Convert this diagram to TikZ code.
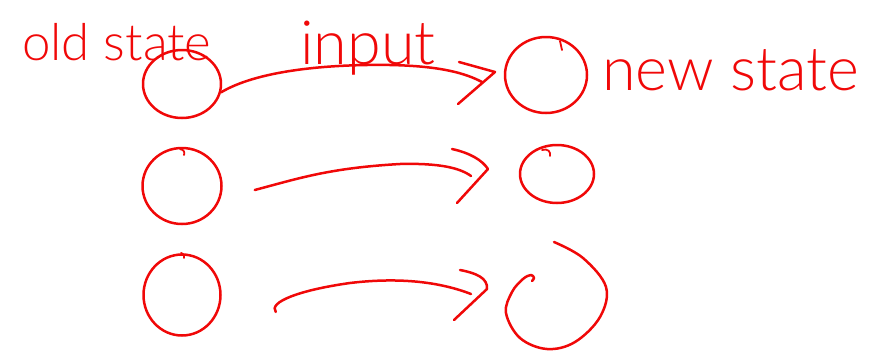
\documentclass[tikz,border=0pt]{standalone}
\usepackage{fontspec}
\setmainfont{Lato Light}
\usetikzlibrary{shapes.geometric}
\definecolor{ink}{RGB}{240,8,8}
\tikzset{
  pen/.style={draw=ink, line width=2.5pt, line cap=round, line join=round},
  stateblob/.style={ellipse, pen, inner sep=0pt},
  hand/.style={text=ink, inner sep=0pt},
}
\begin{document}
\begin{tikzpicture}[x=1pt,y=-1pt]
\useasboundingbox (0,0) rectangle (879,354);
% labels
\node[hand, anchor=base west, font=\fontsize{51}{53}\selectfont] (lold) at (22,60) {old state};
\node[hand, anchor=base west, font=\fontsize{61}{63}\selectfont] (linput) at (300,64) {input};
\node[hand, anchor=base west, font=\fontsize{61}{63}\selectfont] (lnew) at (602,90) {new state};
% old states
\node[stateblob, minimum width=78pt, minimum height=68pt] (o1) at (182,84) {};
\node[stateblob, minimum width=79pt, minimum height=76pt] (o2) at (182,186) {};
\node[stateblob, minimum width=77pt, minimum height=81pt] (o3) at (182,295) {};
% new states
\node[stateblob, minimum width=82pt, minimum height=76pt] (n1) at (546,75) {};
\node[stateblob, minimum width=74pt, minimum height=58pt] (n2) at (557,174) {};
\node[ellipse, minimum width=100pt, minimum height=105pt, inner sep=0pt] (n3) at (556,296) {};
\draw[pen] plot[smooth, tension=0.6] coordinates {(554,242) (583,258) (606,287) (600,317) (575,342) (547,349) (520,338) (506,313) (512,292) (523,279) (531,275) (534,278) (532,281)};
% small ticks of the hand-drawn circles
\draw[pen, line width=1.8pt] (560,41) -- (562,50);
\draw[pen, line width=1.8pt] (180,149) .. controls (184,150) and (185,152) .. (184,155);
\draw[pen, line width=1.8pt] (181,253) .. controls (184,254) and (185,256) .. (184,258);
\draw[pen, line width=1.8pt] (542,150) .. controls (548,148) and (551,152) .. (550,156);
% tips
\coordinate (t1) at (495,72);
\coordinate (t2) at (488,169);
\coordinate (t3) at (487,289);
% connectors
\draw[pen] (o1.-12) .. controls (255,72) and (320,64) .. (390,65) .. controls (440,66) and (465,73) .. (482,82);
\draw[pen] (459,62) -- (t1) -- (458,104);
\draw[pen] ([xshift=32pt,yshift=-4pt]o2.east) .. controls (300,178) and (330,168) .. (400,164) .. controls (440,163) and (460,168) .. (471,176);
\draw[pen] (452,149) .. controls (470,153) and (482,160) .. (t2) -- (457,203);
\draw[pen] ([xshift=54pt,yshift=-17pt]o3.east) .. controls (268,302) and (300,290) .. (350,283) .. controls (400,277) and (440,282) .. (471,294);
\draw[pen] (460,270) .. controls (476,273) and (488,278) .. (t3) -- (454,320);
\end{tikzpicture}
\end{document}
